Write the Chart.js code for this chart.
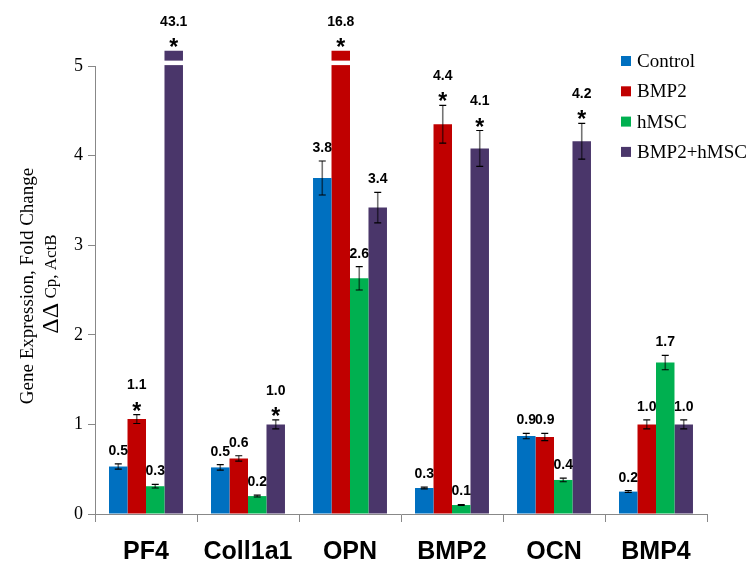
<!DOCTYPE html>
<html>
<head>
<meta charset="utf-8">
<script src="https://cdn.jsdelivr.net/npm/chart.js@4"></script>
<style>
  body { margin: 0; background: #fff; }
  #wrap { width: 751px; height: 561px; position: relative; }
</style>
</head>
<body>
<div id="wrap"><canvas id="chart"></canvas></div>
<script>
// Gene groups and treatment series
const categories = ['PF4', 'Coll1a1', 'OPN', 'BMP2', 'OCN', 'BMP4'];
const seriesNames = ['Control', 'BMP2', 'hMSC', 'BMP2+hMSC'];

// Fold change values (bars above the axis max are drawn broken)
const controlData = [0.53, 0.52, 3.75, 0.29, 0.87, 0.25];
const bmp2Data = [1.06, 0.62, 16.8, 4.35, 0.86, 1.0];
const hmscData = [0.31, 0.20, 2.63, 0.10, 0.38, 1.69];
const comboData = [43.1, 1.0, 3.42, 4.08, 4.16, 1.0];

// Error bar half-lengths
const controlErr = [0.03, 0.03, 0.19, 0.01, 0.03, 0.01];
const bmp2Err = [0.05, 0.03, 0, 0.21, 0.04, 0.05];
const hmscErr = [0.02, 0.01, 0.13, 0.005, 0.02, 0.08];
const comboErr = [0, 0.05, 0.17, 0.2, 0.2, 0.05];

// Value labels shown above the bars
const controlLabels = ['0.5', '0.5', '3.8', '0.3', '0.9', '0.2'];
const bmp2Labels = ['1.1', '0.6', '16.8', '4.4', '0.9', '1.0'];
const hmscLabels = ['0.3', '0.2', '2.6', '0.1', '0.4', '1.7'];
const comboLabels = ['43.1', '1.0', '3.4', '4.1', '4.2', '1.0'];

// Significance marks
const controlStars = [0, 0, 0, 0, 0, 0];
const bmp2Stars = [1, 0, 1, 1, 0, 0];
const hmscStars = [0, 0, 0, 0, 0, 0];
const comboStars = [1, 1, 0, 1, 1, 0];

const yTicks = [0, 1, 2, 3, 4, 5];

const colors = ['#0070C0', '#C00000', '#00B050', '#4A366A'];
const values = [controlData, bmp2Data, hmscData, comboData];
const errors = [controlErr, bmp2Err, hmscErr, comboErr];
const labels = [controlLabels, bmp2Labels, hmscLabels, comboLabels];
const stars = [controlStars, bmp2Stars, hmscStars, comboStars];

const yMax = yTicks[yTicks.length - 1];
const breakTop = 5.17; // where broken bars stop

const annotations = {
  id: 'annotations',
  afterDatasetsDraw(chart) {
    const ctx = chart.ctx;
    const y = chart.scales.y;
    ctx.save();
    values.forEach((vals, i) => {
      const meta = chart.getDatasetMeta(i);
      meta.data.forEach((bar, j) => {
        const v = vals[j];
        const e = errors[i][j];
        const x = bar.x;
        let top;
        if (v > yMax) {
          // white gap to mark the axis break
          ctx.fillStyle = '#fff';
          const g1 = y.getPixelForValue(5.06), g2 = y.getPixelForValue(5.01);
          ctx.fillRect(x - bar.width / 2 - 1, g1, bar.width + 2, g2 - g1);
          top = bar.y;
        } else {
          const yt = y.getPixelForValue(v + e);
          const yb = y.getPixelForValue(v - e);
          ctx.strokeStyle = 'rgba(0,0,0,0.55)';
          ctx.lineWidth = 1.6;
          ctx.beginPath();
          ctx.moveTo(x, yt); ctx.lineTo(x, yb);
          ctx.stroke();
          ctx.strokeStyle = '#000';
          ctx.lineWidth = 1.2;
          ctx.beginPath();
          ctx.moveTo(x - 3.5, yt); ctx.lineTo(x + 3.5, yt);
          ctx.moveTo(x - 3.5, yb); ctx.lineTo(x + 3.5, yb);
          ctx.stroke();
          top = yt;
        }
        ctx.fillStyle = '#000';
        ctx.textAlign = 'center';
        let labelY = top - 13;
        if (stars[i][j]) {
          ctx.font = 'bold 23px "Liberation Sans", Arial';
          ctx.textBaseline = 'alphabetic';
          ctx.fillText('*', x, top - 10 + 14);
          labelY = top - 10 - 19;
        }
        ctx.font = 'bold 14px "Liberation Sans", Arial';
        ctx.textBaseline = 'middle';
        ctx.fillText(labels[i][j], x, labelY);
      });
    });

    // legend
    ctx.textAlign = 'left';
    ctx.textBaseline = 'middle';
    ctx.font = '19px "Liberation Serif", "Times New Roman", serif';
    seriesNames.forEach((name, i) => {
      const ly = 61 + i * 30.3;
      ctx.fillStyle = colors[i];
      ctx.fillRect(621, ly - 5, 10, 10);
      ctx.fillStyle = '#000';
      ctx.fillText(name, 637, ly + 1);
    });

    // y axis title, two lines
    ctx.save();
    ctx.translate(28, 286);
    ctx.rotate(-Math.PI / 2);
    ctx.textAlign = 'center';
    ctx.font = '19px "Liberation Serif", "Times New Roman", serif';
    ctx.fillText('Gene Expression, Fold Change', 0, 0);
    ctx.restore();

    ctx.save();
    ctx.translate(52, 284);
    ctx.rotate(-Math.PI / 2);
    ctx.textAlign = 'left';
    const deltaFont = '24px "Liberation Serif", "Times New Roman", serif';
    const restFont = '17px "Liberation Serif", "Times New Roman", serif';
    ctx.font = deltaFont;
    const w1 = ctx.measureText('\u0394\u0394').width;
    ctx.font = restFont;
    const w2 = ctx.measureText(' Cp, ActB').width;
    const start = -(w1 + w2) / 2;
    ctx.font = deltaFont;
    ctx.fillText('\u0394\u0394', start, 0);
    ctx.font = restFont;
    ctx.fillText(' Cp, ActB', start + w1, 0);
    ctx.restore();

    ctx.restore();
  }
};

const ctx = document.getElementById('chart').getContext('2d');
const chart = new Chart(ctx, {
  type: 'bar',
  data: {
    labels: categories,
    datasets: seriesNames.map((name, i) => ({
      label: name,
      data: values[i].map(v => Math.min(v, breakTop)),
      backgroundColor: colors[i],
      borderWidth: 0,
      barPercentage: 1,
      categoryPercentage: 0.725,
      clip: false
    }))
  },
  options: {
    responsive: true,
    maintainAspectRatio: false,
    animation: false,
    layout: { padding: { left: 0, right: 44, top: 66, bottom: 0 } },
    plugins: {
      legend: { display: false },
      tooltip: { enabled: false }
    },
    scales: {
      x: {
        afterFit: s => { s.height = 47; },
        grid: { offset: true, drawOnChartArea: false, color: '#888', tickLength: 8 },
        border: { color: '#888' },
        ticks: {
          color: '#000',
          padding: 15,
          font: { family: '"Liberation Sans", Arial', size: 25, weight: 'bold' }
        }
      },
      y: {
        min: 0,
        max: yMax,
        afterFit: s => { s.width = 95; },
        afterBuildTicks: s => { s.ticks = yTicks.map(v => ({ value: v })); },
        grid: { drawOnChartArea: false, color: '#888', tickLength: 7 },
        border: { color: '#888' },
        ticks: {
          color: '#000',
          padding: 5,
          font: { family: '"Liberation Serif", "Times New Roman", serif', size: 18 }
        }
      }
    }
  },
  plugins: [annotations]
});
</script>
</body>
</html>
